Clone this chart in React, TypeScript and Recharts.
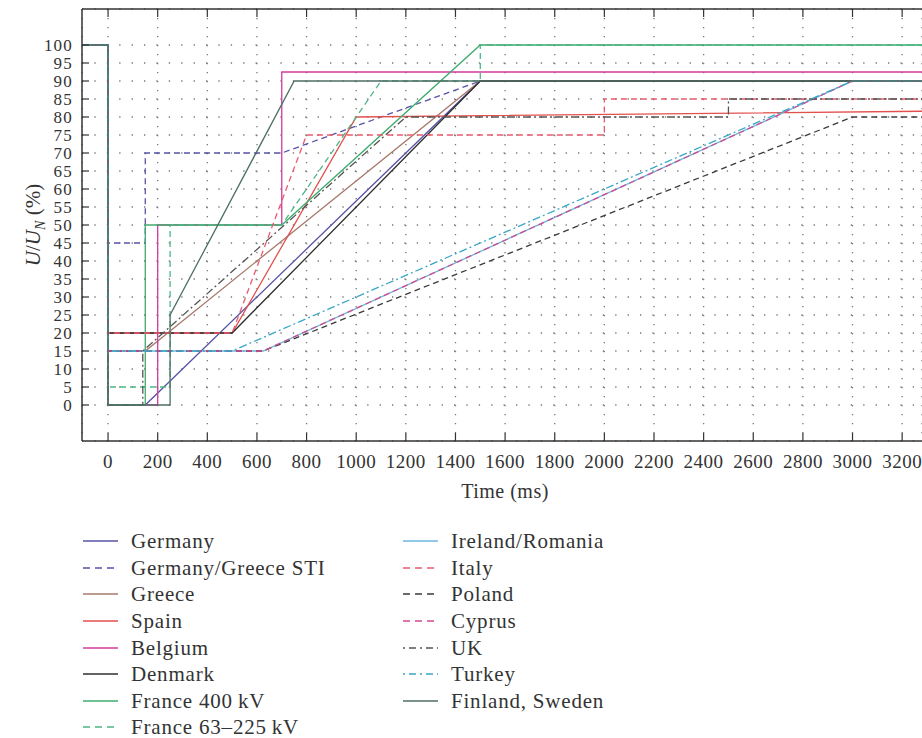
import React from 'react';
import { LineChart, Line, XAxis, YAxis, CartesianGrid, Label } from 'recharts';

// time window shown (ms); the plot is cut on the right like the source figure
const T_START = -105;
const T_END = 3280;

const timeTicks = [0, 200, 400, 600, 800, 1000, 1200, 1400, 1600, 1800, 2000, 2200, 2400, 2600, 2800, 3000, 3200];
const voltTicks = [0, 5, 10, 15, 20, 25, 30, 35, 40, 45, 50, 55, 60, 65, 70, 75, 80, 85, 90, 95, 100];

// [time ms, U/Un %]
const germany = [[-105, 100], [0, 100], [0, 0], [150, 0], [1500, 90], [3280, 90]];
const germanyGreeceSTI = [[-105, 100], [0, 100], [0, 45], [150, 45], [150, 70], [700, 70], [1500, 90], [3280, 90]];
const greece = [[-105, 100], [0, 100], [0, 15], [150, 15], [1500, 90], [3280, 90]];
const spain = [[-105, 100], [0, 100], [0, 20], [500, 20], [1000, 80], [3280, 81.6]];
const belgium = [[-105, 100], [0, 100], [0, 0], [200, 0], [200, 50], [700, 50], [700, 92.5], [3280, 92.5]];
const denmark = [[-105, 100], [0, 100], [0, 20], [500, 20], [1500, 90], [3280, 90]];
const france400 = [[-105, 100], [0, 100], [0, 0], [150, 0], [150, 50], [700, 50], [1500, 100], [3280, 100]];
const france63 = [[-105, 100], [0, 100], [0, 5], [250, 5], [250, 50], [700, 50], [1100, 90], [1500, 90], [1500, 100], [3280, 100]];
const irelandRomania = [[-105, 100], [0, 100], [0, 15], [625, 15], [3000, 90], [3280, 90]];
const italy = [[-105, 100], [0, 100], [0, 20], [500, 20], [800, 75], [2000, 75], [2000, 85], [3280, 85]];
const poland = [[-105, 100], [0, 100], [0, 15], [625, 15], [3000, 80], [3280, 80]];
const cyprus = [[-105, 100], [0, 100], [0, 15], [625, 15], [3000, 90], [3280, 90]];
const uk = [[-105, 100], [0, 100], [0, 0], [140, 0], [140, 15], [1200, 80], [2500, 80], [2500, 85], [3280, 85]];
const turkey = [[-105, 100], [0, 100], [0, 15], [500, 15], [3000, 90], [3280, 90]];
const finlandSweden = [[-105, 100], [0, 100], [0, 0], [250, 0], [250, 25], [750, 90], [3280, 90]];

const DASH = '6 4';
const DASH_DOT = '8 3 2 3';

const series = [
  { name: 'Germany', pts: germany, color: '#5753a6', dash: undefined },
  { name: 'Germany/Greece STI', pts: germanyGreeceSTI, color: '#5753a6', dash: DASH },
  { name: 'Greece', pts: greece, color: '#a87a6c', dash: undefined },
  { name: 'Spain', pts: spain, color: '#e2504e', dash: undefined },
  { name: 'Belgium', pts: belgium, color: '#d23a9e', dash: undefined },
  { name: 'Denmark', pts: denmark, color: '#2f2f2f', dash: undefined },
  { name: 'France 400\u2009kV', pts: france400, color: '#3fab6e', dash: undefined },
  { name: 'France 63\u2013225\u2009kV', pts: france63, color: '#4cb884', dash: DASH },
  { name: 'Ireland/Romania', pts: irelandRomania, color: '#6db6dc', dash: undefined },
  { name: 'Italy', pts: italy, color: '#ea5a6e', dash: DASH },
  { name: 'Poland', pts: poland, color: '#3a3a3a', dash: DASH },
  { name: 'Cyprus', pts: cyprus, color: '#d24a90', dash: DASH },
  { name: 'UK', pts: uk, color: '#555555', dash: DASH_DOT },
  { name: 'Turkey', pts: turkey, color: '#3aa6c6', dash: DASH_DOT },
  { name: 'Finland, Sweden', pts: finlandSweden, color: '#4f6f66', dash: undefined },
];

const FONT = "'Liberation Serif', 'Times New Roman', serif";
const INK = '#333';

const BottomTick = (props: any) => {
  const { x, y, payload } = props;
  return (
    <g>
      <line x1={x} x2={x} y1={y} y2={y - 8} stroke={INK} strokeWidth={1.2} />
      <text x={x} y={y + 27} textAnchor="middle" fontSize={19} letterSpacing={0.5} fill={INK} fontFamily={FONT}>
        {payload.value}
      </text>
    </g>
  );
};

const TopTick = (props: any) => {
  const { x, y } = props;
  return <line x1={x} x2={x} y1={y} y2={y + 8} stroke={INK} strokeWidth={1.2} />;
};

const LeftTick = (props: any) => {
  const { x, y, payload } = props;
  return (
    <g>
      <line x1={x} x2={x + 7} y1={y} y2={y} stroke={INK} strokeWidth={1.2} />
      <text x={x - 9} y={y + 6} textAnchor="end" fontSize={17} letterSpacing={1.2} fill={INK} fontFamily={FONT}>
        {payload.value}
      </text>
    </g>
  );
};

const YTitle = (props: any) => {
  const vb = props.viewBox || { x: 0, y: 9, width: 82, height: 432 };
  const cx = vb.x + 40;
  const cy = vb.y + vb.height / 2;
  return (
    <text x={cx} y={cy} textAnchor="middle" transform={`rotate(-90, ${cx}, ${cy})`} fontSize={21} fill={INK} fontFamily={FONT}>
      <tspan fontStyle="italic">U</tspan>
      <tspan>/</tspan>
      <tspan fontStyle="italic">U</tspan>
      <tspan fontStyle="italic" fontSize={14} dy={5}>N</tspan>
      <tspan dy={-5}> (%)</tspan>
    </text>
  );
};

const XTitle = (props: any) => {
  const vb = props.viewBox || { x: 82, y: 441, width: 840, height: 40 };
  return (
    <text x={vb.x + vb.width / 2 + 3} y={vb.y + 57} textAnchor="middle" fontSize={20} letterSpacing={0.5} fill={INK} fontFamily={FONT}>
      Time (ms)
    </text>
  );
};

const LegendSample = ({ color, dash }: { color: string; dash?: string }) => (
  <svg width={36} height={10} style={{ display: 'block' }}>
    <line x1={0} x2={35} y1={5} y2={5} stroke={color} strokeWidth={1.5} strokeDasharray={dash === DASH ? '7 5' : dash === DASH_DOT ? '2 4 7 4' : undefined} />
  </svg>
);

const LegendBox = () => {
  const cols = [series.slice(0, 8), series.slice(8)];
  const colX = [83, 403];
  return (
    <>
      {cols.map((items, ci) => (
        <div key={ci} style={{ position: 'absolute', left: colX[ci], top: 528 }}>
          {items.map((s) => (
            <div key={s.name} style={{ display: 'flex', alignItems: 'center', height: 26.6 }}>
              <LegendSample color={s.color} dash={s.dash} />
              <span style={{ marginLeft: 12, fontFamily: FONT, fontSize: 21, letterSpacing: 0.8, color: INK, whiteSpace: 'nowrap', lineHeight: '26px' }}>
                {s.name}
              </span>
            </div>
          ))}
        </div>
      ))}
    </>
  );
};

export default function App() {
  return (
    <div style={{ position: 'absolute', left: 0, top: 0, width: 922, height: 738, background: '#fff', overflow: 'hidden' }}>
      <LineChart width={922} height={738} margin={{ top: 8, right: 0, bottom: 257, left: 0 }}>
        <CartesianGrid horizontal={true} vertical={false} stroke="#777" strokeWidth={1.3} strokeDasharray="1.3 11.1" />
        <CartesianGrid horizontal={false} vertical={true} stroke="#777" strokeWidth={1.3} strokeDasharray="1.3 7.7" />
        <XAxis
          type="number"
          dataKey="t"
          domain={[T_START, T_END]}
          allowDataOverflow
          ticks={timeTicks}
          interval={0}
          height={40}
          tickSize={0}
          tickMargin={0}
          tick={<BottomTick />}
          axisLine={{ stroke: INK, strokeWidth: 1.5 }}
        >
          <Label content={<XTitle />} />
        </XAxis>
        <XAxis
          xAxisId="top"
          orientation="top"
          type="number"
          dataKey="t"
          domain={[T_START, T_END]}
          allowDataOverflow
          ticks={timeTicks}
          interval={0}
          height={1}
          tickSize={0}
          tickMargin={0}
          tick={<TopTick />}
          axisLine={{ stroke: INK, strokeWidth: 1.5 }}
        />
        <YAxis
          type="number"
          dataKey="v"
          domain={[-10, 110]}
          allowDataOverflow
          ticks={voltTicks}
          interval={0}
          width={82}
          tickSize={0}
          tickMargin={0}
          tick={<LeftTick />}
          axisLine={{ stroke: INK, strokeWidth: 1.5 }}
        >
          <Label content={<YTitle />} />
        </YAxis>
        {series.map((s) => (
          <Line
            key={s.name}
            name={s.name}
            data={s.pts.map(([t, v]) => ({ t, v }))}
            dataKey="v"
            type="linear"
            stroke={s.color}
            strokeWidth={1.3}
            strokeDasharray={s.dash}
            dot={false}
            activeDot={false}
            isAnimationActive={false}
          />
        ))}
      </LineChart>
      <LegendBox />
    </div>
  );
}
